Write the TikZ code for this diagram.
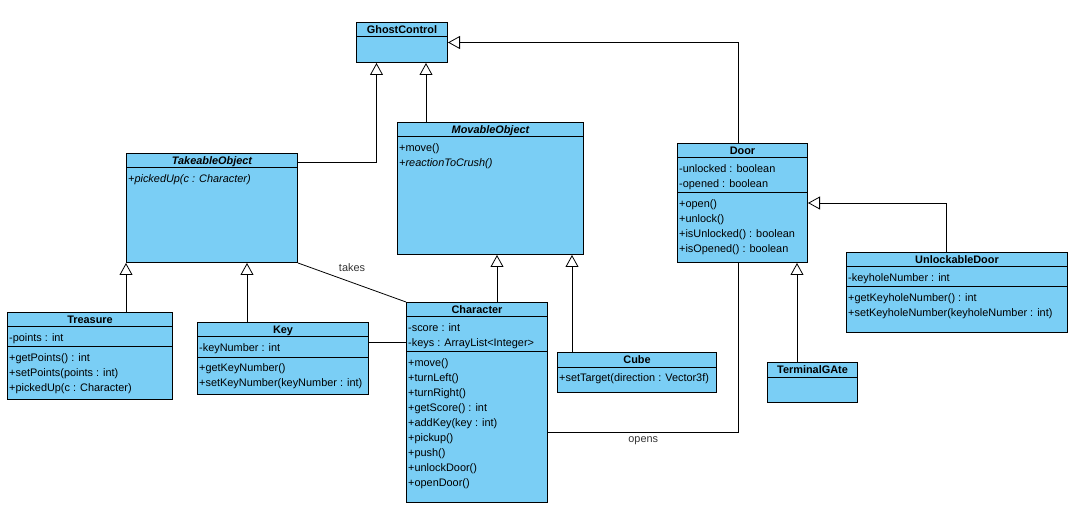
\documentclass[tikz,border=0pt]{standalone}
\usepackage{fontspec}
\setmainfont{Liberation Sans}
\usetikzlibrary{arrows.meta}
\definecolor{umlblue}{RGB}{122,206,245}
\newcommand\umlfont{\fontsize{10.9}{15}\selectfont}
\begin{document}
\begin{tikzpicture}[x=1pt,y=-1pt,
    cls/.style={draw,fill=umlblue,line width=1pt,inner sep=0pt,anchor=north west},
    title/.style={anchor=base,inner sep=0pt,font=\umlfont\bfseries},
    rows/.style={anchor=north west,inner sep=0pt,align=left,font=\umlfont},
    sep/.style={line width=1pt},
    gen/.style={-{Triangle[open,length=12pt,width=13pt]},line width=0.8pt},
    assoc/.style={line width=0.8pt},
    lbl/.style={inner sep=0pt,font=\umlfont,text=black!80}]
  \useasboundingbox (0,0) rectangle (1073,510);
  % classes
  \node[cls,minimum width=91pt,minimum height=40pt] (ghost) at (356,22) {};
  \node[cls,minimum width=171pt,minimum height=109pt] (takeable) at (126,153) {};
  \node[cls,minimum width=186pt,minimum height=132pt] (movable) at (397,122) {};
  \node[cls,minimum width=130pt,minimum height=119pt] (door) at (677,143) {};
  \node[cls,minimum width=221pt,minimum height=80pt] (unlock) at (846,252) {};
  \node[cls,minimum width=165pt,minimum height=87pt] (treasure) at (7,312) {};
  \node[cls,minimum width=171pt,minimum height=72pt] (key) at (197,322) {};
  \node[cls,minimum width=141pt,minimum height=200pt] (char) at (406,302) {};
  \node[cls,minimum width=159pt,minimum height=40pt] (cube) at (557,352) {};
  \node[cls,minimum width=90pt,minimum height=40pt] (terminal) at (767,362) {};
  % header lines
  \foreach \c in {ghost,takeable,movable,door,unlock,treasure,key,char,cube,terminal}
    \draw[sep] ([yshift=-15]\c.north west) -- ([yshift=-15]\c.north east);
  \draw[sep] ([yshift=-50]door.north west) -- ([yshift=-50]door.north east);
  \draw[sep] ([yshift=-35]unlock.north west) -- ([yshift=-35]unlock.north east);
  \draw[sep] ([yshift=-35]treasure.north west) -- ([yshift=-35]treasure.north east);
  \draw[sep] ([yshift=-35]key.north west) -- ([yshift=-35]key.north east);
  \draw[sep] ([yshift=-50]char.north west) -- ([yshift=-50]char.north east);
  % titles
  \node[title] (ghost-t) at ([yshift=-11.5]ghost.north) {GhostControl};
  \node[title] (takeable-t) at ([yshift=-11.5]takeable.north) {\itshape TakeableObject};
  \node[title] (movable-t) at ([yshift=-11.5]movable.north) {\itshape MovableObject};
  \node[title] (door-t) at ([yshift=-11.5]door.north) {Door};
  \node[title] (unlock-t) at ([yshift=-11.5]unlock.north) {UnlockableDoor};
  \node[title] (treasure-t) at ([yshift=-11.5]treasure.north) {Treasure};
  \node[title] (key-t) at ([yshift=-11.5]key.north) {Key};
  \node[title] (char-t) at ([yshift=-11.5]char.north) {Character};
  \node[title] (cube-t) at ([yshift=-11.5]cube.north) {Cube};
  \node[title] (terminal-t) at ([yshift=-11.5]terminal.north) {TerminalGAte};
  % members
  \node[rows] (takeable-m) at ([xshift=2,yshift=-18.5]takeable.north west)
    {\strut\itshape +pickedUp(c : Character)};
  \node[rows] (movable-m) at ([xshift=2,yshift=-18.5]movable.north west)
    {\strut+move()\\\itshape +reactionToCrush()};
  \node[rows] (door-a) at ([xshift=2,yshift=-18.5]door.north west)
    {\strut-unlocked : boolean\\-opened : boolean};
  \node[rows] (door-m) at ([xshift=2,yshift=-53.5]door.north west)
    {\strut+open()\\+unlock()\\+isUnlocked() : boolean\\+isOpened() : boolean};
  \node[rows] (unlock-a) at ([xshift=2,yshift=-18.5]unlock.north west)
    {\strut-keyholeNumber : int};
  \node[rows] (unlock-m) at ([xshift=2,yshift=-38.5]unlock.north west)
    {\strut+getKeyholeNumber() : int\\+setKeyholeNumber(keyholeNumber : int)};
  \node[rows] (treasure-a) at ([xshift=2,yshift=-18.5]treasure.north west)
    {\strut-points : int};
  \node[rows] (treasure-m) at ([xshift=2,yshift=-38.5]treasure.north west)
    {\strut+getPoints() : int\\+setPoints(points : int)\\+pickedUp(c : Character)};
  \node[rows] (key-a) at ([xshift=2,yshift=-18.5]key.north west)
    {\strut-keyNumber : int};
  \node[rows] (key-m) at ([xshift=2,yshift=-38.5]key.north west)
    {\strut+getKeyNumber()\\+setKeyNumber(keyNumber : int)};
  \node[rows] (char-a) at ([xshift=2,yshift=-18.5]char.north west)
    {\strut-score : int\\-keys : ArrayList<Integer>};
  \node[rows] (char-m) at ([xshift=2,yshift=-53.5]char.north west)
    {\strut+move()\\+turnLeft()\\+turnRight()\\+getScore() : int\\+addKey(key : int)\\+pickup()\\+push()\\+unlockDoor()\\+openDoor()};
  \node[rows] (cube-m) at ([xshift=2,yshift=-18.5]cube.north west)
    {\strut+setTarget(direction : Vector3f)};
  % generalizations
  \coordinate (movT) at ([xshift=29]movable.north west);
  \coordinate (keyT) at ([xshift=50]key.north west);
  \coordinate (charT) at ([xshift=91]char.north west);
  \coordinate (cubeT) at ([xshift=15]cube.north west);
  \coordinate (termT) at ([xshift=30]terminal.north west);
  \draw[gen] ([yshift=-9]takeable.north east) -| ([xshift=-25.5]ghost.south);
  \draw[gen] (movT) -- (movT |- ghost.south);
  \draw[gen] ([xshift=-4]door.north) |- (ghost.east);
  \draw[gen] (treasure.north -| takeable.south west) -- (takeable.south west);
  \draw[gen] (keyT) -- (keyT |- takeable.south);
  \draw[gen] (charT) -- (charT |- movable.south);
  \draw[gen] (cubeT) -- (cubeT |- movable.south);
  \draw[gen] (termT) -- (termT |- door.south);
  \draw[gen] ([xshift=100]unlock.north west) |- (door.east);
  % associations
  \coordinate (keyR) at ([yshift=-20]key.north east);
  \draw[assoc] (keyR) -- (keyR -| char.west);
  \draw[assoc] (takeable.south east) -- node[lbl,yshift=15] (takes) {takes} (char.north west);
  \draw[assoc] ([yshift=-30]char.east) -| node[lbl,pos=0.25,yshift=-8] (opens) {opens} ([xshift=-4]door.south);
\end{tikzpicture}
\end{document}
